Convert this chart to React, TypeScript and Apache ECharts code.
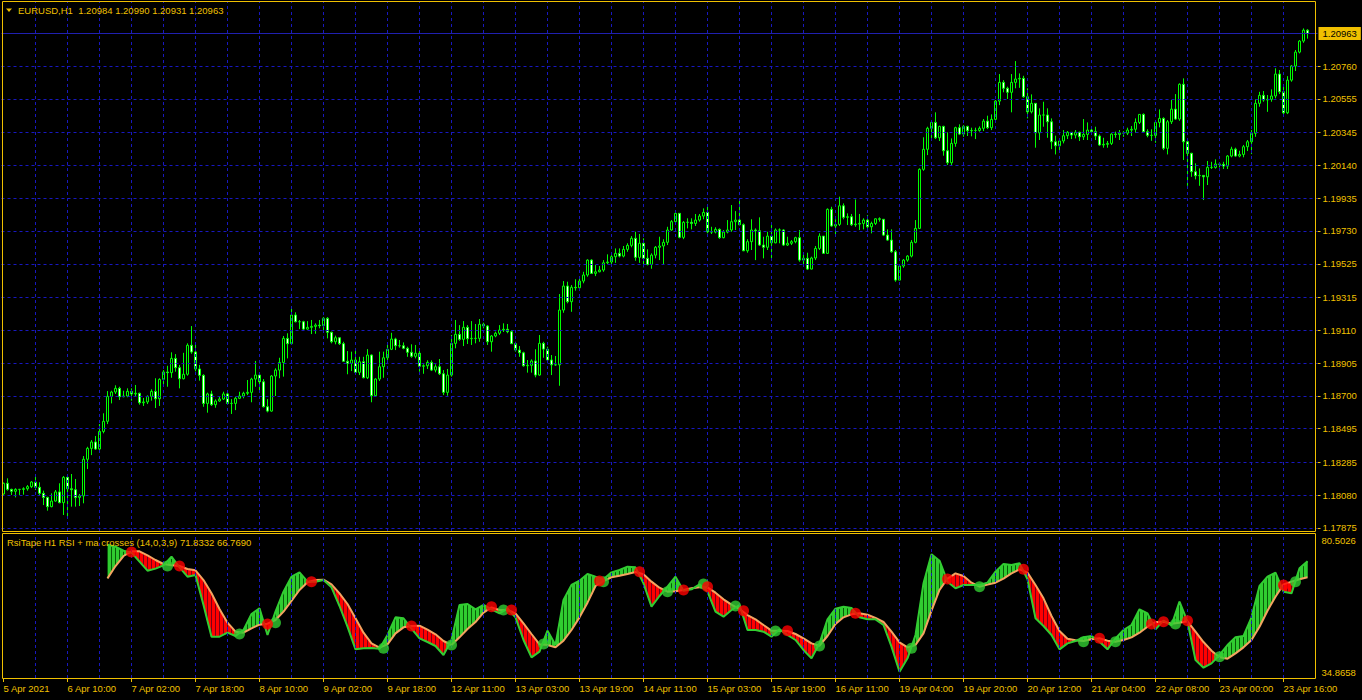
import React, { useEffect, useRef } from 'react';
import * as echarts from 'echarts';

// ---------- DATA ----------
const symbolTitle = 'EURUSD,H1';
const indicatorTitle = 'RsiTape H1 RSI + ma crosses (14,0,3,9)';

const timeLabels = [
  '5 Apr 2021', '6 Apr 10:00', '7 Apr 02:00', '7 Apr 18:00', '8 Apr 10:00', '9 Apr 02:00',
  '9 Apr 18:00', '12 Apr 11:00', '13 Apr 03:00', '13 Apr 19:00', '14 Apr 11:00', '15 Apr 03:00',
  '15 Apr 19:00', '16 Apr 11:00', '19 Apr 04:00', '19 Apr 20:00', '20 Apr 12:00', '21 Apr 04:00',
  '22 Apr 08:00', '23 Apr 00:00', '23 Apr 16:00',
];

const priceTicks = [
  1.2076, 1.20555, 1.20345, 1.2014, 1.19935, 1.1973, 1.19525, 1.19315,
  1.1911, 1.18905, 1.187, 1.18495, 1.18285, 1.1808, 1.17875,
];
const priceMin = 1.17856;
const priceMax = 1.2116;

const rsiScaleMin = 34.8658;
const rsiScaleMax = 80.5026;

const firstOpen = 1.18087;

const closes = [
  1.18154, 1.18116, 1.18104, 1.18116, 1.18116, 1.18120, 1.18133, 1.18162, 1.18129, 1.18091,
  1.18066, 1.18008, 1.18043, 1.18100, 1.18033, 1.18191, 1.18120, 1.18114, 1.18066, 1.18075,
  1.18304, 1.18372, 1.18412, 1.18368, 1.18478, 1.18541, 1.18697, 1.18724, 1.18747, 1.18695,
  1.18699, 1.18728, 1.18712, 1.18716, 1.18657, 1.18662, 1.18697, 1.18728, 1.18682, 1.18803,
  1.18849, 1.18845, 1.18934, 1.18876, 1.18807, 1.18835, 1.19016, 1.18974, 1.18868, 1.18828,
  1.18653, 1.18712, 1.18645, 1.18668, 1.18680, 1.18712, 1.18653, 1.18653, 1.18685, 1.18699,
  1.18716, 1.18722, 1.18805, 1.18830, 1.18788, 1.18632, 1.18605, 1.18824, 1.18861, 1.18909,
  1.19059, 1.19026, 1.19205, 1.19163, 1.19163, 1.19117, 1.19128, 1.19134, 1.19142, 1.19138,
  1.19184, 1.19097, 1.19038, 1.19063, 1.19026, 1.18916, 1.18903, 1.18924, 1.18847, 1.18913,
  1.18813, 1.18955, 1.18701, 1.18805, 1.18882, 1.18938, 1.18991, 1.19055, 1.19013, 1.19013,
  1.18997, 1.18972, 1.18947, 1.18966, 1.18885, 1.18888, 1.18909, 1.18861, 1.18882, 1.18838,
  1.18722, 1.18830, 1.19028, 1.19084, 1.19053, 1.19128, 1.19057, 1.19059, 1.19059, 1.19147,
  1.19136, 1.19038, 1.19074, 1.19091, 1.19111, 1.19116, 1.19101, 1.19026, 1.18986, 1.18969,
  1.18888, 1.18891, 1.18918, 1.18830, 1.19028, 1.18992, 1.18924, 1.18894, 1.18894, 1.19236,
  1.19386, 1.19288, 1.19378, 1.19375, 1.19417, 1.19455, 1.19548, 1.19465, 1.19475, 1.19486,
  1.19531, 1.19536, 1.19569, 1.19590, 1.19573, 1.19615, 1.19640, 1.19684, 1.19565, 1.19653,
  1.19559, 1.19521, 1.19579, 1.19628, 1.19636, 1.19659, 1.19736, 1.19788, 1.19840, 1.19690,
  1.19784, 1.19784, 1.19777, 1.19798, 1.19823, 1.19846, 1.19725, 1.19723, 1.19740, 1.19688,
  1.19723, 1.19736, 1.19788, 1.19798, 1.19769, 1.19606, 1.19663, 1.19736, 1.19731, 1.19642,
  1.19628, 1.19698, 1.19656, 1.19736, 1.19736, 1.19642, 1.19653, 1.19663, 1.19688, 1.19548,
  1.19559, 1.19492, 1.19561, 1.19621, 1.19698, 1.19590, 1.19865, 1.19761, 1.19771, 1.19887,
  1.19815, 1.19819, 1.19769, 1.19773, 1.19777, 1.19798, 1.19756, 1.19777, 1.19806, 1.19803,
  1.19704, 1.19673, 1.19600, 1.19423, 1.19511, 1.19548, 1.19573, 1.19659, 1.19746, 1.20115,
  1.20240, 1.20371, 1.20408, 1.20312, 1.20383, 1.20231, 1.20156, 1.20277, 1.20375, 1.20335,
  1.20383, 1.20356, 1.20358, 1.20358, 1.20371, 1.20416, 1.20375, 1.20427, 1.20541, 1.20658,
  1.20621, 1.20596, 1.20658, 1.20679, 1.20683, 1.20568, 1.20474, 1.20527, 1.20343, 1.20454,
  1.20454, 1.20412, 1.20287, 1.20262, 1.20292, 1.20325, 1.20346, 1.20329, 1.20346, 1.20318,
  1.20333, 1.20360, 1.20350, 1.20323, 1.20267, 1.20271, 1.20277, 1.20335, 1.20333, 1.20341,
  1.20341, 1.20360, 1.20365, 1.20408, 1.20458, 1.20350, 1.20327, 1.20327, 1.20408, 1.20433,
  1.20246, 1.20412, 1.20491, 1.20429, 1.20646, 1.20287, 1.20215, 1.20100, 1.20075, 1.20077,
  1.20068, 1.20127, 1.20127, 1.20148, 1.20146, 1.20135, 1.20198, 1.20241, 1.20198, 1.20208,
  1.20256, 1.20287, 1.20340, 1.20527, 1.20577, 1.20548, 1.20552, 1.20573, 1.20710, 1.20599,
  1.20468, 1.20672, 1.20760, 1.20847, 1.20916, 1.20984, 1.20963,
];

const highs = [
  1.18158, 1.18185, 1.18120, 1.18123, 1.18118, 1.18129, 1.18143, 1.18168, 1.18206, 1.18160,
  1.18108, 1.18070, 1.18091, 1.18112, 1.18154, 1.18199, 1.18191, 1.18212, 1.18181, 1.18087,
  1.18324, 1.18382, 1.18424, 1.18449, 1.18524, 1.18591, 1.18730, 1.18732, 1.18766, 1.18757,
  1.18732, 1.18747, 1.18747, 1.18768, 1.18720, 1.18687, 1.18703, 1.18741, 1.18810, 1.18810,
  1.18861, 1.18888, 1.18972, 1.18961, 1.18893, 1.18969, 1.19028, 1.19136, 1.19024, 1.18893,
  1.18835, 1.18720, 1.18732, 1.18678, 1.18699, 1.18726, 1.18732, 1.18680, 1.18695, 1.18726,
  1.18726, 1.18799, 1.18813, 1.18918, 1.18838, 1.18805, 1.18680, 1.18830, 1.18872, 1.18938,
  1.19074, 1.19091, 1.19261, 1.19222, 1.19174, 1.19169, 1.19167, 1.19174, 1.19153, 1.19174,
  1.19192, 1.19192, 1.19101, 1.19076, 1.19059, 1.19038, 1.18980, 1.18976, 1.18980, 1.18944,
  1.18944, 1.18992, 1.18959, 1.18810, 1.18976, 1.18976, 1.19028, 1.19094, 1.19063, 1.19049,
  1.19034, 1.19007, 1.19022, 1.19018, 1.18980, 1.18897, 1.18922, 1.18922, 1.18897, 1.18930,
  1.18861, 1.18868, 1.19080, 1.19174, 1.19142, 1.19167, 1.19142, 1.19167, 1.19149, 1.19180,
  1.19157, 1.19142, 1.19080, 1.19101, 1.19142, 1.19153, 1.19149, 1.19111, 1.19038, 1.19011,
  1.18976, 1.18924, 1.18928, 1.18991, 1.19080, 1.19038, 1.19007, 1.18955, 1.18949, 1.19336,
  1.19417, 1.19413, 1.19392, 1.19428, 1.19444, 1.19475, 1.19553, 1.19553, 1.19517, 1.19511,
  1.19548, 1.19584, 1.19579, 1.19621, 1.19621, 1.19636, 1.19653, 1.19698, 1.19725, 1.19711,
  1.19684, 1.19615, 1.19590, 1.19636, 1.19694, 1.19678, 1.19756, 1.19798, 1.19850, 1.19788,
  1.19792, 1.19809, 1.19809, 1.19836, 1.19836, 1.19871, 1.19886, 1.19756, 1.19753, 1.19746,
  1.19736, 1.19798, 1.19892, 1.19854, 1.19923, 1.19777, 1.19678, 1.19803, 1.19746, 1.19815,
  1.19694, 1.19725, 1.19767, 1.19746, 1.19746, 1.19740, 1.19694, 1.19673, 1.19694, 1.19736,
  1.19590, 1.19594, 1.19569, 1.19636, 1.19715, 1.19698, 1.19871, 1.19881, 1.19803, 1.19944,
  1.19902, 1.19840, 1.19836, 1.19927, 1.19836, 1.19809, 1.19829, 1.19788, 1.19809, 1.19815,
  1.19761, 1.19740, 1.19740, 1.19611, 1.19517, 1.19555, 1.19579, 1.19673, 1.19798, 1.20121,
  1.20315, 1.20381, 1.20421, 1.20471, 1.20387, 1.20387, 1.20346, 1.20308, 1.20381, 1.20396,
  1.20391, 1.20387, 1.20375, 1.20375, 1.20383, 1.20429, 1.20450, 1.20458, 1.20548, 1.20710,
  1.20672, 1.20631, 1.20710, 1.20791, 1.20714, 1.20699, 1.20621, 1.20583, 1.20527, 1.20496,
  1.20537, 1.20496, 1.20433, 1.20325, 1.20298, 1.20360, 1.20354, 1.20346, 1.20360, 1.20350,
  1.20429, 1.20408, 1.20371, 1.20381, 1.20333, 1.20312, 1.20292, 1.20340, 1.20350, 1.20360,
  1.20354, 1.20375, 1.20385, 1.20433, 1.20460, 1.20464, 1.20365, 1.20365, 1.20423, 1.20489,
  1.20440, 1.20423, 1.20548, 1.20585, 1.20652, 1.20683, 1.20302, 1.20218, 1.20152, 1.20121,
  1.20079, 1.20167, 1.20162, 1.20177, 1.20156, 1.20162, 1.20204, 1.20256, 1.20250, 1.20231,
  1.20267, 1.20298, 1.20360, 1.20552, 1.20599, 1.20604, 1.20579, 1.20614, 1.20746, 1.20735,
  1.20631, 1.20697, 1.20766, 1.20860, 1.20922, 1.20995, 1.20990,
];

const lows = [
  1.18083, 1.18108, 1.18081, 1.18066, 1.18081, 1.18083, 1.18108, 1.18124, 1.18112, 1.18081,
  1.18018, 1.17983, 1.18004, 1.18039, 1.18029, 1.17956, 1.17939, 1.18008, 1.18008, 1.18012,
  1.18029, 1.18243, 1.18330, 1.18362, 1.18362, 1.18466, 1.18524, 1.18653, 1.18712, 1.18674,
  1.18691, 1.18691, 1.18670, 1.18699, 1.18645, 1.18637, 1.18649, 1.18670, 1.18624, 1.18637,
  1.18757, 1.18757, 1.18813, 1.18851, 1.18747, 1.18803, 1.18826, 1.18963, 1.18853, 1.18795,
  1.18632, 1.18595, 1.18637, 1.18626, 1.18663, 1.18674, 1.18643, 1.18587, 1.18611, 1.18680,
  1.18685, 1.18705, 1.18660, 1.18757, 1.18730, 1.18628, 1.18597, 1.18601, 1.18699, 1.18810,
  1.18820, 1.18934, 1.19018, 1.19159, 1.19117, 1.19105, 1.19113, 1.19086, 1.19088, 1.19122,
  1.19101, 1.19059, 1.19028, 1.19022, 1.19018, 1.18913, 1.18835, 1.18855, 1.18841, 1.18830,
  1.18810, 1.18805, 1.18660, 1.18695, 1.18793, 1.18813, 1.18913, 1.18986, 1.18986, 1.19001,
  1.18991, 1.18944, 1.18938, 1.18934, 1.18851, 1.18838, 1.18868, 1.18855, 1.18847, 1.18830,
  1.18705, 1.18701, 1.18820, 1.18997, 1.19044, 1.19011, 1.19024, 1.19018, 1.19028, 1.19038,
  1.19122, 1.19018, 1.18976, 1.19066, 1.19080, 1.19099, 1.19091, 1.19024, 1.18976, 1.18944,
  1.18882, 1.18845, 1.18845, 1.18816, 1.18826, 1.18938, 1.18913, 1.18830, 1.18888, 1.18763,
  1.19219, 1.19278, 1.19225, 1.19357, 1.19361, 1.19403, 1.19444, 1.19461, 1.19448, 1.19472,
  1.19475, 1.19523, 1.19517, 1.19531, 1.19565, 1.19565, 1.19600, 1.19628, 1.19544, 1.19531,
  1.19503, 1.19515, 1.19494, 1.19559, 1.19548, 1.19521, 1.19642, 1.19731, 1.19779, 1.19684,
  1.19679, 1.19746, 1.19740, 1.19761, 1.19788, 1.19803, 1.19715, 1.19711, 1.19715, 1.19681,
  1.19684, 1.19715, 1.19725, 1.19736, 1.19765, 1.19604, 1.19594, 1.19611, 1.19548, 1.19636,
  1.19559, 1.19611, 1.19559, 1.19653, 1.19653, 1.19636, 1.19636, 1.19642, 1.19653, 1.19538,
  1.19511, 1.19486, 1.19490, 1.19548, 1.19611, 1.19586, 1.19586, 1.19756, 1.19694, 1.19761,
  1.19803, 1.19767, 1.19761, 1.19756, 1.19736, 1.19740, 1.19746, 1.19715, 1.19767, 1.19788,
  1.19698, 1.19669, 1.19594, 1.19413, 1.19423, 1.19500, 1.19538, 1.19565, 1.19653, 1.19742,
  1.20106, 1.20204, 1.20292, 1.20304, 1.20292, 1.20200, 1.20142, 1.20137, 1.20256, 1.20329,
  1.20318, 1.20323, 1.20321, 1.20304, 1.20350, 1.20354, 1.20366, 1.20360, 1.20418, 1.20516,
  1.20596, 1.20554, 1.20471, 1.20621, 1.20624, 1.20562, 1.20433, 1.20464, 1.20250, 1.20298,
  1.20381, 1.20312, 1.20241, 1.20208, 1.20221, 1.20277, 1.20304, 1.20304, 1.20308, 1.20292,
  1.20298, 1.20298, 1.20329, 1.20298, 1.20262, 1.20250, 1.20250, 1.20267, 1.20312, 1.20298,
  1.20318, 1.20329, 1.20323, 1.20343, 1.20398, 1.20343, 1.20315, 1.20293, 1.20281, 1.20377,
  1.20235, 1.20208, 1.20398, 1.20423, 1.20418, 1.20173, 1.20012, 1.20068, 1.20052, 1.20012,
  1.19923, 1.20017, 1.20117, 1.20119, 1.20127, 1.20117, 1.20117, 1.20190, 1.20193, 1.20190,
  1.20190, 1.20229, 1.20210, 1.20318, 1.20506, 1.20537, 1.20474, 1.20537, 1.20558, 1.20585,
  1.20450, 1.20460, 1.20662, 1.20729, 1.20839, 1.20905, 1.20931,
];

// RSI tape: sampled every 2 bars starting at bar 26
const rsiStartBar = 26;
const rsiStep = 2;
const rsiValues = [
  77.12, 76.49, 75.22, 74.59, 71.73, 68.88, 69.52, 70.57, 73.32, 69.94,
  66.98, 67.51, 58.0, 47.97, 47.97, 49.23, 48.18, 50.08, 55.15, 56.95,
  48.49, 55.89, 62.23, 66.98, 68.35, 65.4, 65.4, 65.92, 63.6, 57.68,
  51.13, 43.95, 44.27, 44.37, 44.16, 48.49, 54.09, 53.78, 50.5, 47.44,
  46.27, 45.01, 42.16, 46.91, 58.0, 58.32, 56.63, 58.0, 56.63, 55.36,
  56.84, 54.09, 46.91, 41.42, 43.21, 49.87, 45.32, 59.59, 64.34, 65.71,
  67.83, 66.98, 66.14, 68.35, 69.09, 70.15, 69.94, 64.87, 57.47, 60.85,
  63.81, 66.98, 62.54, 62.97, 64.55, 62.23, 55.89, 54.3, 56.42, 58.0,
  50.08, 50.08, 49.55, 47.97, 50.29, 48.49, 46.91, 43.74, 41.1, 45.85,
  53.46, 56.84, 57.47, 57.05, 54.09, 53.46, 53.46, 51.66, 44.8, 36.87,
  41.1, 48.49, 64.87, 74.06, 72.05, 65.4, 63.28, 64.34, 64.34, 64.34,
  65.08, 68.57, 71.0, 70.68, 71.21, 66.14, 53.78, 51.35, 48.49, 43.95,
  45.85, 46.59, 47.75, 48.18, 46.38, 43.95, 47.44, 50.08, 51.66, 56.63,
  55.36, 50.29, 53.04, 51.56, 59.06, 52.72, 40.57, 38.14, 39.51, 42.16,
  45.32, 47.75, 48.18, 54.09, 64.02, 66.98, 68.25, 62.23, 61.7, 69.62,
  71.8332,
];
const maValues = [
  66.45, 70.36, 73.53, 75.01, 75.01, 73.74, 72.26, 71.0, 70.57, 70.36,
  69.41, 68.99, 65.92, 61.7, 56.73, 52.4, 49.55, 49.23, 50.61, 51.77,
  52.09, 53.25, 55.89, 59.27, 62.76, 65.19, 65.92, 66.03, 64.55, 61.7,
  58.32, 53.78, 49.23, 45.85, 44.48, 45.54, 49.02, 50.92, 51.35, 51.45,
  50.18, 48.7, 46.59, 45.32, 47.75, 50.4, 52.61, 55.57, 57.26, 56.42,
  56.42, 55.36, 52.19, 48.81, 45.54, 45.32, 44.58, 46.7, 50.08, 54.09,
  58.74, 64.02, 65.61, 66.77, 67.3, 67.83, 68.46, 67.72, 65.4, 63.49,
  62.23, 62.33, 62.76, 63.28, 63.6, 63.6, 61.91, 59.8, 58.11, 56.73,
  54.83, 53.46, 51.66, 49.87, 49.87, 49.76, 48.81, 47.44, 45.85, 45.11,
  48.18, 51.98, 54.09, 55.04, 55.36, 54.94, 53.88, 52.61, 49.55, 46.17,
  44.58, 45.32, 49.02, 56.2, 62.76, 66.35, 68.04, 67.19, 65.08, 63.81,
  64.45, 65.08, 66.35, 68.04, 69.3, 68.25, 64.34, 60.11, 54.52, 49.76,
  47.33, 46.8, 46.59, 47.12, 47.44, 46.7, 46.38, 46.91, 47.75, 49.23,
  51.13, 52.61, 52.72, 52.09, 52.4, 52.83, 49.55, 46.27, 43.53, 41.42,
  40.99, 42.68, 44.58, 46.91, 51.13, 56.2, 60.64, 64.55, 65.4, 66.14,
  66.769,
];

// crossing markers [bar, value]
const upCrosses = [
  [41, 70.36], [59, 48.81], [68, 52.4], [95, 44.27], [112, 45.32], [125, 56.42], [135, 45.64],
  [150, 65.4], [166, 62.23], [175, 64.66], [183, 57.68], [193, 49.76], [204, 45.01], [227, 44.27],
  [244, 63.81], [270, 46.38], [278, 46.38], [293, 51.98], [304, 41.63], [323, 65.4],
];
const downCrosses = [
  [32, 74.8], [44, 70.36], [66, 51.98], [77, 65.4], [102, 51.35], [122, 57.47], [127, 56.42],
  [149, 65.61], [159, 68.56], [170, 62.76], [176, 63.81], [185, 56.2], [196, 49.87], [213, 55.36],
  [236, 66.24], [255, 69.3], [274, 47.44], [287, 51.98], [290, 52.72], [296, 53.04], [320, 64.34],
];

// ---------- STYLE ----------
const GOLD = '#f0c000';
const GRID_BLUE = '#1818c0';
const FONT = 'Liberation Sans, Arial, sans-serif';
const FS = 9.5;
const BAR_SLOTS = 329;
const LABEL_EVERY = 16;
const GRID_EVERY = 8;

export default function App() {
  const ref = useRef<HTMLDivElement>(null);

  useEffect(() => {
    document.body.style.margin = '0';
    document.body.style.background = '#000';
    const chart = echarts.init(ref.current as HTMLDivElement, null, { renderer: 'svg' });

    const categories = Array.from({ length: BAR_SLOTS }, (_, i) =>
      i % LABEL_EVERY === 0 && timeLabels[i / LABEL_EVERY] ? timeLabels[i / LABEL_EVERY] : ''
    );
    const opens = closes.map((c, i) => (i === 0 ? firstOpen : closes[i - 1]));
    const candleData = closes.map((c, i) => {
      const o = opens[i];
      return [o, c, Math.min(lows[i], o, c), Math.max(highs[i], o, c)];
    });
    const last = closes.length - 1;

    const rsiPoints = rsiValues.map((v, k) => [rsiStartBar + k * rsiStep, v]);
    const maPoints = maValues.map((v, k) => [rsiStartBar + k * rsiStep, v]);
    const segments = rsiValues.slice(0, -1).map((v, k) => [
      rsiStartBar + k * rsiStep,
      rsiStartBar + (k + 1) * rsiStep,
      v,
      rsiValues[k + 1],
      maValues[k],
      maValues[k + 1],
    ]);

    const gridBars: number[] = [];
    for (let b = GRID_EVERY; b < BAR_SLOTS - 2; b += GRID_EVERY) gridBars.push(b);

    const GREEN_FILL = '#30cc30';
    const GREEN_HATCH = '#075a07';
    const RED_FILL = '#ff0000';
    const RED_HATCH = '#7a0018';

    const renderTape = (params: any, api: any) => {
      const b0 = api.value(0);
      const b1 = api.value(1);
      const r0 = api.value(2);
      const r1 = api.value(3);
      const m0 = api.value(4);
      const m1 = api.value(5);
      const pr0 = api.coord([b0, r0]);
      const pr1 = api.coord([b1, r1]);
      const pm0 = api.coord([b0, m0]);
      const pm1 = api.coord([b1, m1]);
      const d0 = r0 - m0;
      const d1 = r1 - m1;
      const children: any[] = [];
      const poly = (pts: number[][], up: boolean) => ({
        type: 'polygon',
        shape: { points: pts },
        style: { fill: up ? GREEN_FILL : RED_FILL, stroke: up ? GREEN_FILL : RED_FILL, lineWidth: 0.5 },
      });
      if ((d0 >= 0 && d1 >= 0) || (d0 <= 0 && d1 <= 0)) {
        children.push(poly([pr0, pr1, pm1, pm0], d0 + d1 >= 0));
      } else {
        const t = d0 / (d0 - d1);
        const xc = pr0[0] + t * (pr1[0] - pr0[0]);
        const yc = pm0[1] + t * (pm1[1] - pm0[1]);
        children.push(poly([pr0, [xc, yc], pm0], d0 > 0));
        children.push(poly([[xc, yc], pr1, pm1], d1 > 0));
      }
      const n = b1 - b0;
      for (let j = 0; j < n; j++) {
        const f = j / n;
        const x = Math.floor(pr0[0] + f * (pr1[0] - pr0[0])) + 0.5;
        const yr = pr0[1] + f * (pr1[1] - pr0[1]);
        const ym = pm0[1] + f * (pm1[1] - pm0[1]);
        if (Math.abs(yr - ym) < 1) continue;
        children.push({
          type: 'line',
          shape: { x1: x, y1: yr, x2: x, y2: ym },
          style: { stroke: yr < ym ? GREEN_HATCH : RED_HATCH, lineWidth: 1 },
        });
      }
      return { type: 'group', children };
    };

    const titleText = `${symbolTitle}  ${opens[last].toFixed(5)} ${candleData[last][3].toFixed(5)} ${candleData[last][2].toFixed(5)} ${closes[last].toFixed(5)}`;
    const indText = `${indicatorTitle} ${rsiValues[rsiValues.length - 1].toFixed(4)} ${maValues[maValues.length - 1].toFixed(4)}`;

    const labelStyle = { color: GOLD, fontSize: FS, fontFamily: FONT };

    const option: any = {
      animation: false,
      backgroundColor: '#000',
      textStyle: { fontFamily: FONT },
      grid: [
        { left: 1.5, top: 2, width: 1316, height: 529 },
        { left: 1.5, top: 534, width: 1316, height: 144 },
      ],
      xAxis: [
        {
          type: 'category', gridIndex: 0, data: categories, boundaryGap: true,
          axisLine: { show: false }, axisTick: { show: false }, axisLabel: { show: false }, splitLine: { show: false },
        },
        {
          type: 'category', gridIndex: 1, data: categories, boundaryGap: true,
          axisLine: { show: false },
          axisTick: {
            show: true, alignWithLabel: true, length: 4,
            interval: (i: number) => i % LABEL_EVERY === 0,
            lineStyle: { color: GOLD, width: 1 },
          },
          axisLabel: {
            ...labelStyle, align: 'left', margin: 5,
            interval: (i: number) => i % LABEL_EVERY === 0,
          },
          splitLine: { show: false },
        },
      ],
      yAxis: [
        {
          type: 'value', gridIndex: 0, position: 'right', min: priceMin, max: priceMax, scale: true,
          axisLine: { show: false },
          splitLine: { show: false },
          axisTick: { show: true, customValues: priceTicks, length: 3, lineStyle: { color: GOLD } },
          axisLabel: {
            ...labelStyle, margin: 5, customValues: priceTicks,
            formatter: (v: number) => v.toFixed(5),
          },
        },
        {
          type: 'value', gridIndex: 1, position: 'right', min: rsiScaleMin, max: rsiScaleMax,
          axisLine: { show: false },
          splitLine: { show: false },
          axisTick: { show: false },
          axisLabel: {
            ...labelStyle, margin: 4, customValues: [rsiScaleMin, rsiScaleMax],
            formatter: (v: number) => (v > (rsiScaleMin + rsiScaleMax) / 2 ? `{t|${v.toFixed(4)}}` : `{b|${v.toFixed(4)}}`),
            rich: {
              t: { ...labelStyle, padding: [12, 0, 0, 0] },
              b: { ...labelStyle, padding: [0, 0, 11, 0] },
            },
          },
        },
      ],
      series: [
        {
          type: 'line', xAxisIndex: 0, yAxisIndex: 0, data: [], z: 1, silent: true,
          markLine: {
            silent: true, symbol: ['none', 'none'], animation: false, precision: 6,
            label: { show: false },
            lineStyle: { color: GRID_BLUE, type: [3, 3], width: 1 },
            data: [
              ...priceTicks.map((v) => ({ yAxis: v })),
              ...gridBars.map((b) => ({ xAxis: b })),
            ],
          },
        },
        {
          type: 'candlestick', xAxisIndex: 0, yAxisIndex: 0, data: candleData, barWidth: 2, z: 3,
          itemStyle: {
            color: '#000000', color0: '#ffffff',
            borderColor: '#00ff00', borderColor0: '#00ff00', borderColorDoji: '#00ff00', borderWidth: 1,
          },
          markLine: {
            silent: true, symbol: ['none', 'none'], animation: false, precision: 6,
            data: [
              {
                yAxis: closes[last],
                lineStyle: { color: '#2020b0', type: 'solid', width: 1 },
                label: {
                  show: true, position: 'end', distance: 1,
                  formatter: closes[last].toFixed(5),
                  color: '#000', backgroundColor: GOLD, padding: [2, 4, 1, 4],
                  fontSize: FS, fontFamily: FONT,
                },
              },
            ],
          },
        },
        {
          type: 'line', xAxisIndex: 1, yAxisIndex: 1, data: [], z: 1, silent: true,
          markLine: {
            silent: true, symbol: ['none', 'none'], animation: false,
            label: { show: false },
            lineStyle: { color: GRID_BLUE, type: [3, 3], width: 1 },
            data: gridBars.map((b) => ({ xAxis: b })),
          },
        },
        {
          type: 'custom', xAxisIndex: 1, yAxisIndex: 1, data: segments, z: 2, clip: true,
          encode: { x: [0, 1], y: [2, 3, 4, 5] },
          renderItem: renderTape,
          silent: true,
        },
        {
          type: 'line', xAxisIndex: 1, yAxisIndex: 1, data: maPoints, z: 3, symbol: 'none',
          lineStyle: { color: '#f4a460', width: 2 }, silent: true,
        },
        {
          type: 'line', xAxisIndex: 1, yAxisIndex: 1, data: rsiPoints, z: 4, symbol: 'none',
          lineStyle: { color: '#32cd32', width: 2 }, silent: true,
        },
        {
          type: 'scatter', xAxisIndex: 1, yAxisIndex: 1, data: upCrosses, z: 5, symbolSize: 11,
          itemStyle: { color: '#32cd32' }, silent: true,
        },
        {
          type: 'scatter', xAxisIndex: 1, yAxisIndex: 1, data: downCrosses, z: 5, symbolSize: 11,
          itemStyle: { color: '#ff0000' }, silent: true,
        },
      ],
      graphic: [
        {
          type: 'polygon', z: 100, silent: true,
          shape: { points: [[6, 8.5], [12, 8.5], [9, 12]] },
          style: { fill: GOLD },
        },
        {
          type: 'text', z: 100, silent: true, x: 18, y: 10.5,
          style: { text: titleText, fill: GOLD, fontSize: FS, fontFamily: FONT, verticalAlign: 'middle' },
        },
        {
          type: 'text', z: 100, silent: true, x: 7, y: 542.5,
          style: { text: indText, fill: GOLD, fontSize: FS, fontFamily: FONT, verticalAlign: 'middle' },
        },
        {
          type: 'rect', z: 100, silent: true,
          shape: { x: 2.5, y: 1.5, width: 1313, height: 530 },
          style: { fill: 'none', stroke: GOLD, lineWidth: 1 },
        },
        {
          type: 'rect', z: 100, silent: true,
          shape: { x: 2.5, y: 533.5, width: 1313, height: 145 },
          style: { fill: 'none', stroke: GOLD, lineWidth: 1 },
        },
      ],
    };

    chart.setOption(option);
    return () => chart.dispose();
  }, []);

  return <div ref={ref} style={{ width: 1362, height: 700, background: '#000' }} />;
}
